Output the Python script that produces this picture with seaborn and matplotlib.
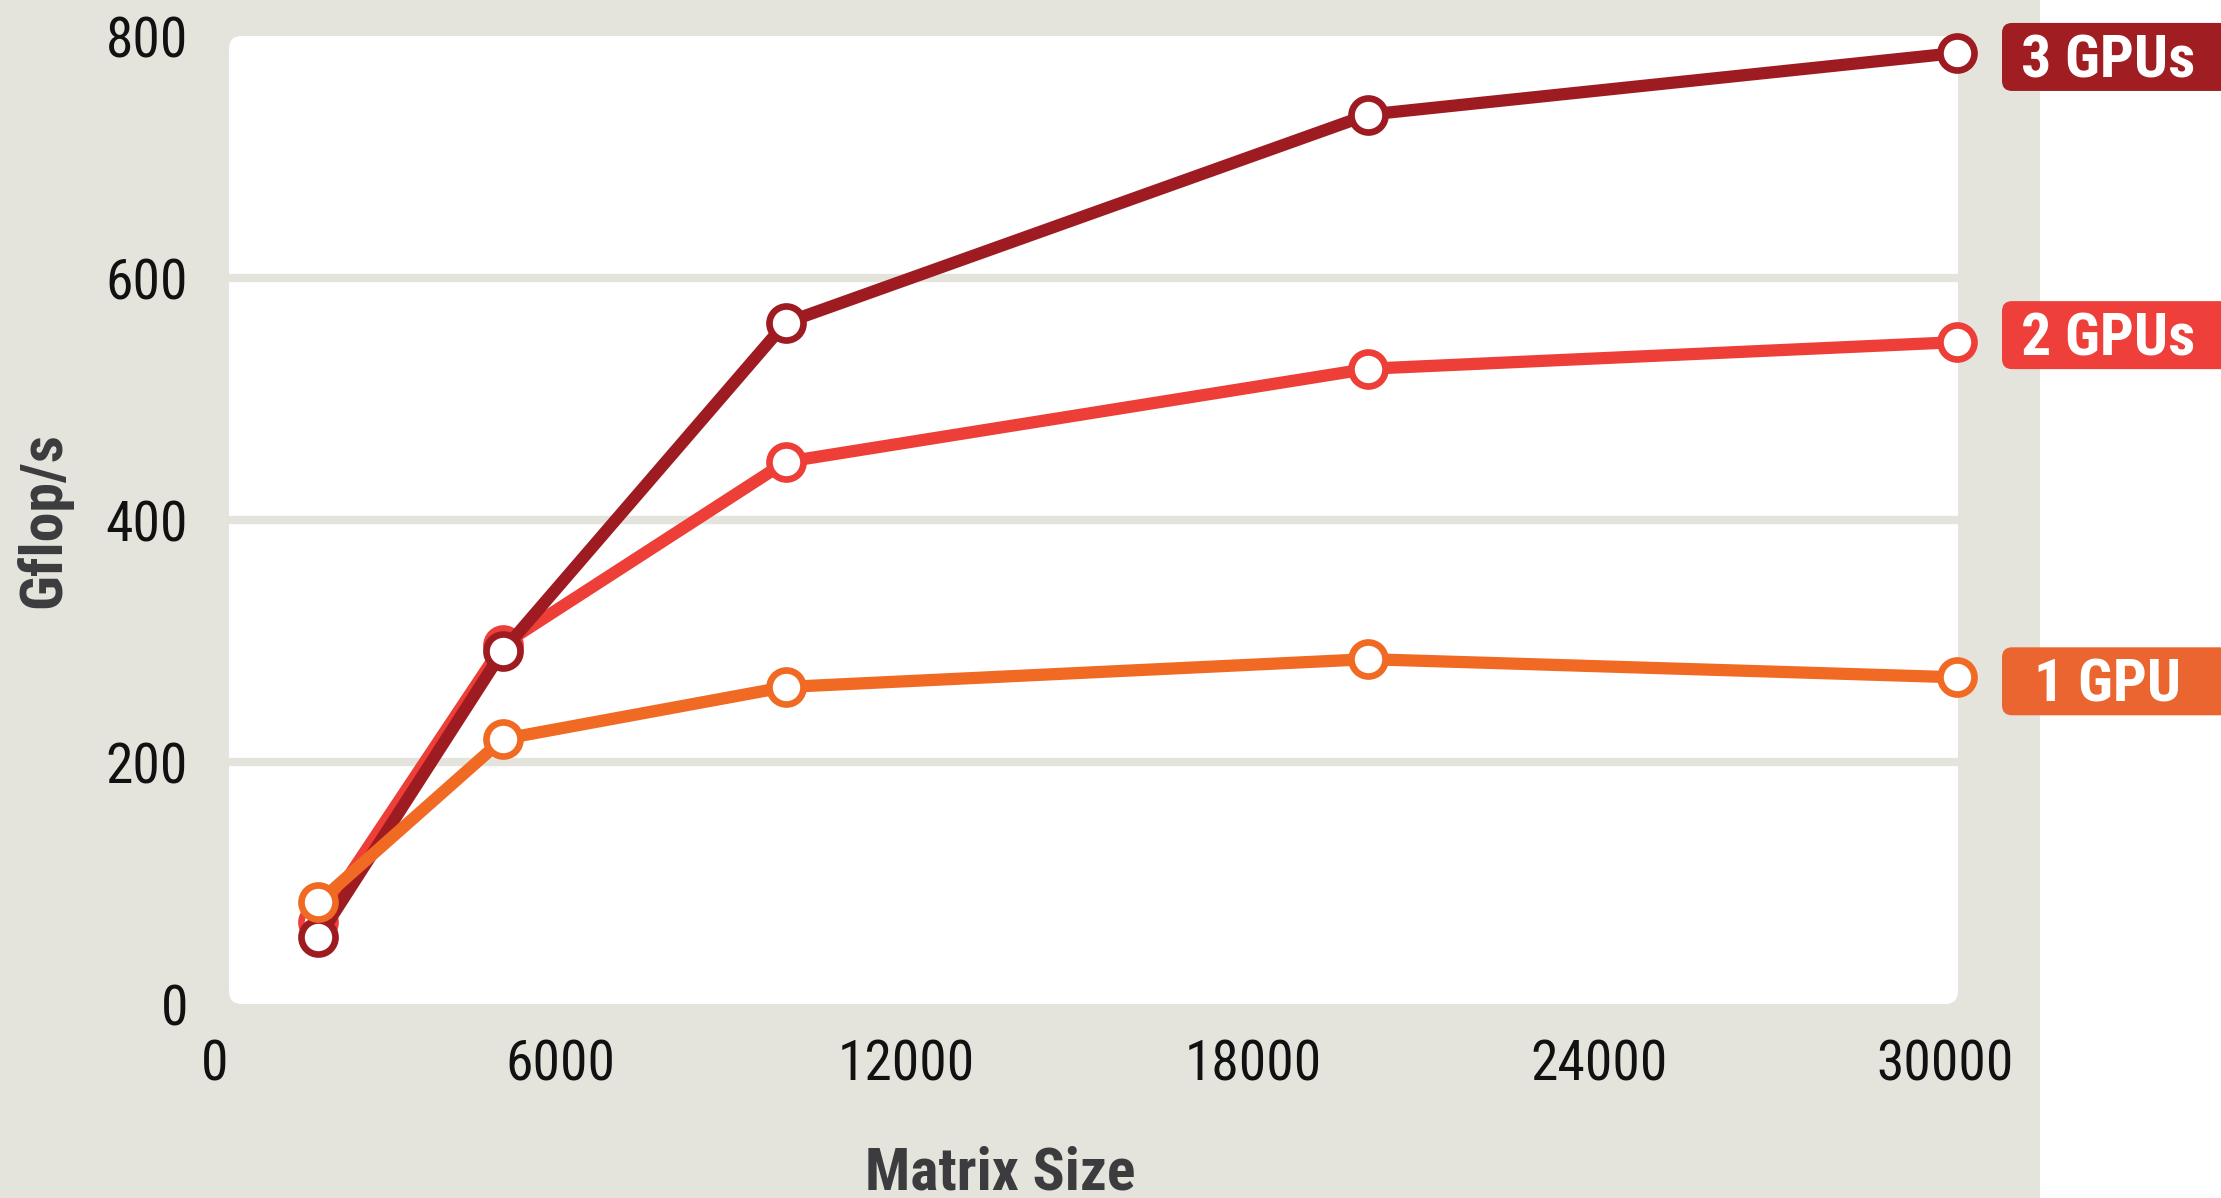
import matplotlib
matplotlib.use("Agg")
import matplotlib.pyplot as plt
from matplotlib import font_manager
from matplotlib.patches import FancyBboxPatch, Rectangle
import pandas as pd
import seaborn as sns

# Measured throughput (Gflop/s) against matrix size
matrix_size = [1800, 5000, 9900, 20000, 30200]
gflops_1gpu = [84, 219, 262, 285, 270]
gflops_2gpu = [68, 297, 448, 525, 547]
gflops_3gpu = [55, 292, 563, 735, 786]

series_names = ["2 GPUs", "3 GPUs", "1 GPU"]          # drawing order
series_values = [gflops_2gpu, gflops_3gpu, gflops_1gpu]
line_colors = ["#EE3E38", "#9E1C21", "#F06A24"]
tag_colors = ["#EE3F3A", "#A01D22", "#EA6530"]
tag_shift_in = [0.07, -0.04, -0.04]

x_ticks = [0, 6000, 12000, 18000, 24000, 30000]
y_ticks = [0, 200, 400, 600, 800]

BEIGE = "#E4E4DC"
W, H, DPI = 2221, 1198, 100


def pick_font(families):
    for fam in families:
        try:
            font_manager.findfont(font_manager.FontProperties(family=fam),
                                  fallback_to_default=False)
            return fam
        except Exception:
            continue
    return "DejaVu Sans"


sns.set_theme(style="white")
narrow = pick_font(["Liberation Sans Narrow", "Roboto Condensed", "Liberation Sans"])
plt.rcParams["font.family"] = [narrow, "DejaVu Sans"]

frames = []
for name, vals in zip(series_names, series_values):
    frames.append(pd.DataFrame({"size": matrix_size, "gflops": vals, "series": name}))
df = pd.concat(frames, ignore_index=True)

fig = plt.figure(figsize=(W / DPI, H / DPI), dpi=DPI, facecolor="white")
fig.patches.append(Rectangle((0, 0), 2040 / W, 1, transform=fig.transFigure,
                             facecolor=BEIGE, edgecolor="none", zorder=-5))

# rounded white plotting panel (pixel geometry, in inches)
fig.patches.append(FancyBboxPatch((229 / DPI, 194 / DPI), 1729 / DPI, 968 / DPI,
                                  boxstyle="round,pad=0,rounding_size=0.13",
                                  transform=fig.dpi_scale_trans,
                                  facecolor="white", edgecolor="none", zorder=-4))

AX_L, AX_R, AX_B, AX_T = 214.6, 1958, 194, 1162
ax = fig.add_axes([AX_L / W, AX_B / H, (AX_R - AX_L) / W, (AX_T - AX_B) / H])
ax.set_zorder(1)
ax.patch.set_visible(False)
for sp in ax.spines.values():
    sp.set_visible(False)

for i, (name, color) in enumerate(zip(series_names, line_colors)):
    sns.lineplot(data=df[df["series"] == name], x="size", y="gflops", ax=ax,
                 color=color, linewidth=8.8, marker="o", markersize=24.5,
                 markerfacecolor="white", markeredgecolor=color,
                 markeredgewidth=4.8, clip_on=False, zorder=3 + i,
                 legend=False, errorbar=None)

ax.set_xlim(0, 30225)
ax.set_ylim(0, 800)
ax.set_xticks(x_ticks)
ax.set_yticks(y_ticks)
ax.set_xticklabels([str(v) for v in x_ticks])
ax.set_yticklabels([str(v) for v in y_ticks])
ax.tick_params(axis="both", length=0, labelsize=40, labelcolor="#111111")
ax.tick_params(axis="y", pad=19)
ax.tick_params(axis="x", pad=24.5)

ax.set_axisbelow(True)
ax.grid(axis="y", color=BEIGE, linewidth=6)
ax.grid(axis="x", visible=False)
glines = ax.get_ygridlines()
glines[0].set_visible(False)
glines[-1].set_visible(False)

ax_w, ax_h = AX_R - AX_L, AX_T - AX_B
label_font = dict(fontsize=43, fontweight="bold", color="#3C3C3E")
ax.set_xlabel("Matrix Size", **label_font)
ax.xaxis.label.set_va("baseline")
ax.xaxis.set_label_coords((1000 - AX_L) / ax_w, (9 - AX_B) / ax_h)
ax.set_ylabel("Gflop/s", **label_font)
ax.yaxis.label.set_va("center")
ax.yaxis.set_label_coords((44 - AX_L) / ax_w, 0.5)

# end-of-line tags
fig.canvas.draw()
for name, vals, color, shift in zip(series_names, series_values, tag_colors,
                                    tag_shift_in):
    y_px = ax.transData.transform((matrix_size[-1], vals[-1]))[1]
    y_in = y_px / DPI + shift
    tag = FancyBboxPatch((2002 / DPI, y_in - 0.34), 2.30, 0.68,
                         boxstyle="round,pad=0,rounding_size=0.1",
                         transform=fig.dpi_scale_trans, facecolor=color,
                         edgecolor="none", zorder=5)
    fig.patches.append(tag)
    fig.text(2108 / DPI, y_in - 0.205, name, transform=fig.dpi_scale_trans,
             ha="center", va="baseline", fontsize=43, fontweight="bold",
             color="white", zorder=6)

fig.savefig("out.png", dpi=DPI, facecolor=fig.get_facecolor())
